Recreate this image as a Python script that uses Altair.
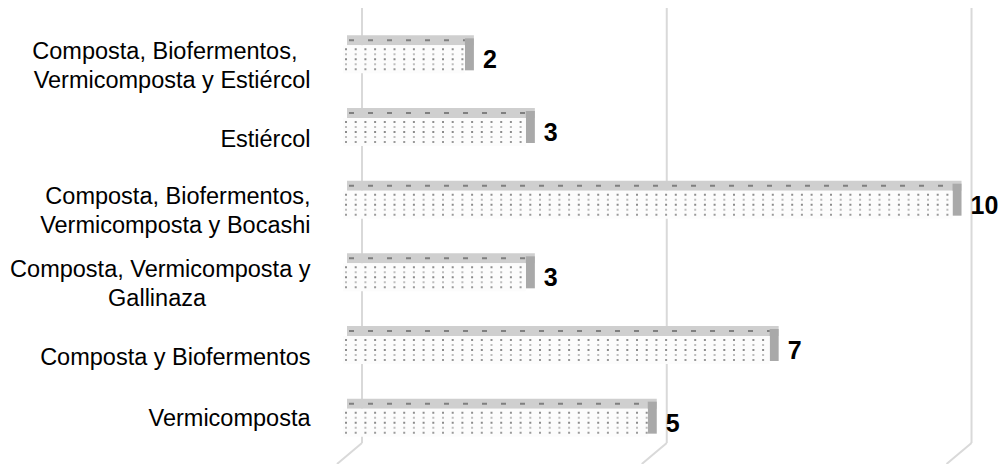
import altair as alt
import pandas as pd

# ---- data ----
categories = [
    "Composta, Biofermentos, Vermicomposta y Estiércol",
    "Estiércol",
    "Composta, Biofermentos, Vermicomposta y Bocashi",
    "Composta, Vermicomposta y Gallinaza",
    "Composta y Biofermentos",
    "Vermicomposta",
]
values = [2, 3, 10, 3, 7, 5]
NB = "\u00a0"
ZW = "\u200b"
label_lines = [
    ["Composta, Biofermentos," + NB * 2 + ZW, "Vermicomposta y Estiércol"],
    ["Estiércol"],
    ["Composta, Biofermentos,", "Vermicomposta y Bocashi"],
    ["Composta, Vermicomposta y", "Gallinaza" + NB * 16 + ZW],
    ["Composta y Biofermentos"],
    ["Vermicomposta"],
]
grid_values = [0, 5, 10]

df = pd.DataFrame({"category": categories, "value": values, "start": [0] * len(values)})
grid_df = pd.DataFrame({"g": grid_values})

xs = alt.Scale(domain=[0, 10.5], nice=False, zero=True)
ys = alt.Scale(domain=categories, paddingInner=0, paddingOuter=0)


def q(s):
    return "'" + s.replace("\\", "\\\\").replace("'", "\\'") + "'"


label_expr = "datum.label"
for c, lines in reversed(list(zip(categories, label_lines))):
    arr = "[" + ", ".join(q(l) for l in lines) + "]"
    label_expr = f"datum.label === {q(c)} ? {arr} : ({label_expr})"

multi = [c for c, l in zip(categories, label_lines) if len(l) > 1]
multi_test = " || ".join(f"datum.value === {q(c)}" for c in multi)

y_axis = alt.Axis(
    title=None, domain=False, ticks=False, grid=False,
    labelPadding=33, labelFont="Liberation Sans", labelFontSize=23.5,
    labelColor="#000000", labelLimit=600, labelLineHeight=29,
    labelExpr=label_expr,
    labelOffset={
        "condition": [
            {"test": multi_test, "value": -7.5},
            {"test": "datum.value === 'Vermicomposta'", "value": -4},
        ],
        "value": 7.5,
    },
)

X = lambda f: alt.X(f, scale=xs, axis=None)
Yn = alt.Y("category:N", scale=ys, axis=y_axis, sort=categories)

# back-wall gridlines
grid_wall = alt.Chart(grid_df).mark_rule(color="#d9d9d9", strokeWidth=2, xOffset=19).encode(
    x=alt.X("g:Q", scale=xs, axis=None), y=alt.value(-15), y2=alt.value(420)
)
grid_floor = alt.Chart(grid_df).mark_rule(color="#d9d9d9", strokeWidth=2, xOffset=19, x2Offset=-6).encode(
    x=alt.X("g:Q", scale=xs, axis=None), x2="g:Q", y=alt.value(420), y2=alt.value(441)
)

base = alt.Chart(df)

top_face = base.mark_bar(size=10, yOffset=-19, xOffset=4, x2Offset=9, color="#cfcfcf").encode(
    x=X("start:Q"), x2="value:Q", y=Yn
)
side_face = base.mark_bar(size=32, yOffset=-5, x2Offset=9, color="#a9a9a9").encode(
    x=X("value:Q"), x2="value:Q", y=Yn
)
front = base.mark_bar(size=28, color="#fcfcfc").encode(
    x=X("start:Q"), x2="value:Q", y=Yn
)

hatch = base.mark_rule(yOffset=-19, xOffset=6, strokeDash=[5, 14], strokeWidth=2, color="#7f7f7f").encode(
    x=X("start:Q"), x2="value:Q", y=Yn
)

dot_layers = []
for off, col in zip([-10, -5, 0, 5, 10], ["#8f8f8f", "#bdbdbd", "#8a8a8a", "#bdbdbd", "#9a9a9a"]):
    dot_layers.append(
        base.mark_rule(yOffset=off, xOffset=2, strokeDash=[2, 7.7], strokeWidth=2, color=col).encode(
            x=X("start:Q"), x2="value:Q", y=Yn
        )
    )

labels = base.mark_text(align="left", baseline="middle", dx=18, dy=1,
                        font="Liberation Sans", fontSize=25, fontWeight="bold", color="#000000").encode(
    x=X("value:Q"), y=Yn, text="value:Q"
)

chart = alt.layer(
    grid_wall, grid_floor, top_face, side_face, front, hatch, *dot_layers, labels
).properties(
    width=640, height=436,
    autosize=alt.AutoSizeParams(type="none"),
    padding={"left": 343, "top": 23, "right": 24, "bottom": 5},
    background="#ffffff",
).configure_view(stroke=None)

chart.save("out.html", embed_options={"renderer": "svg", "actions": False})
